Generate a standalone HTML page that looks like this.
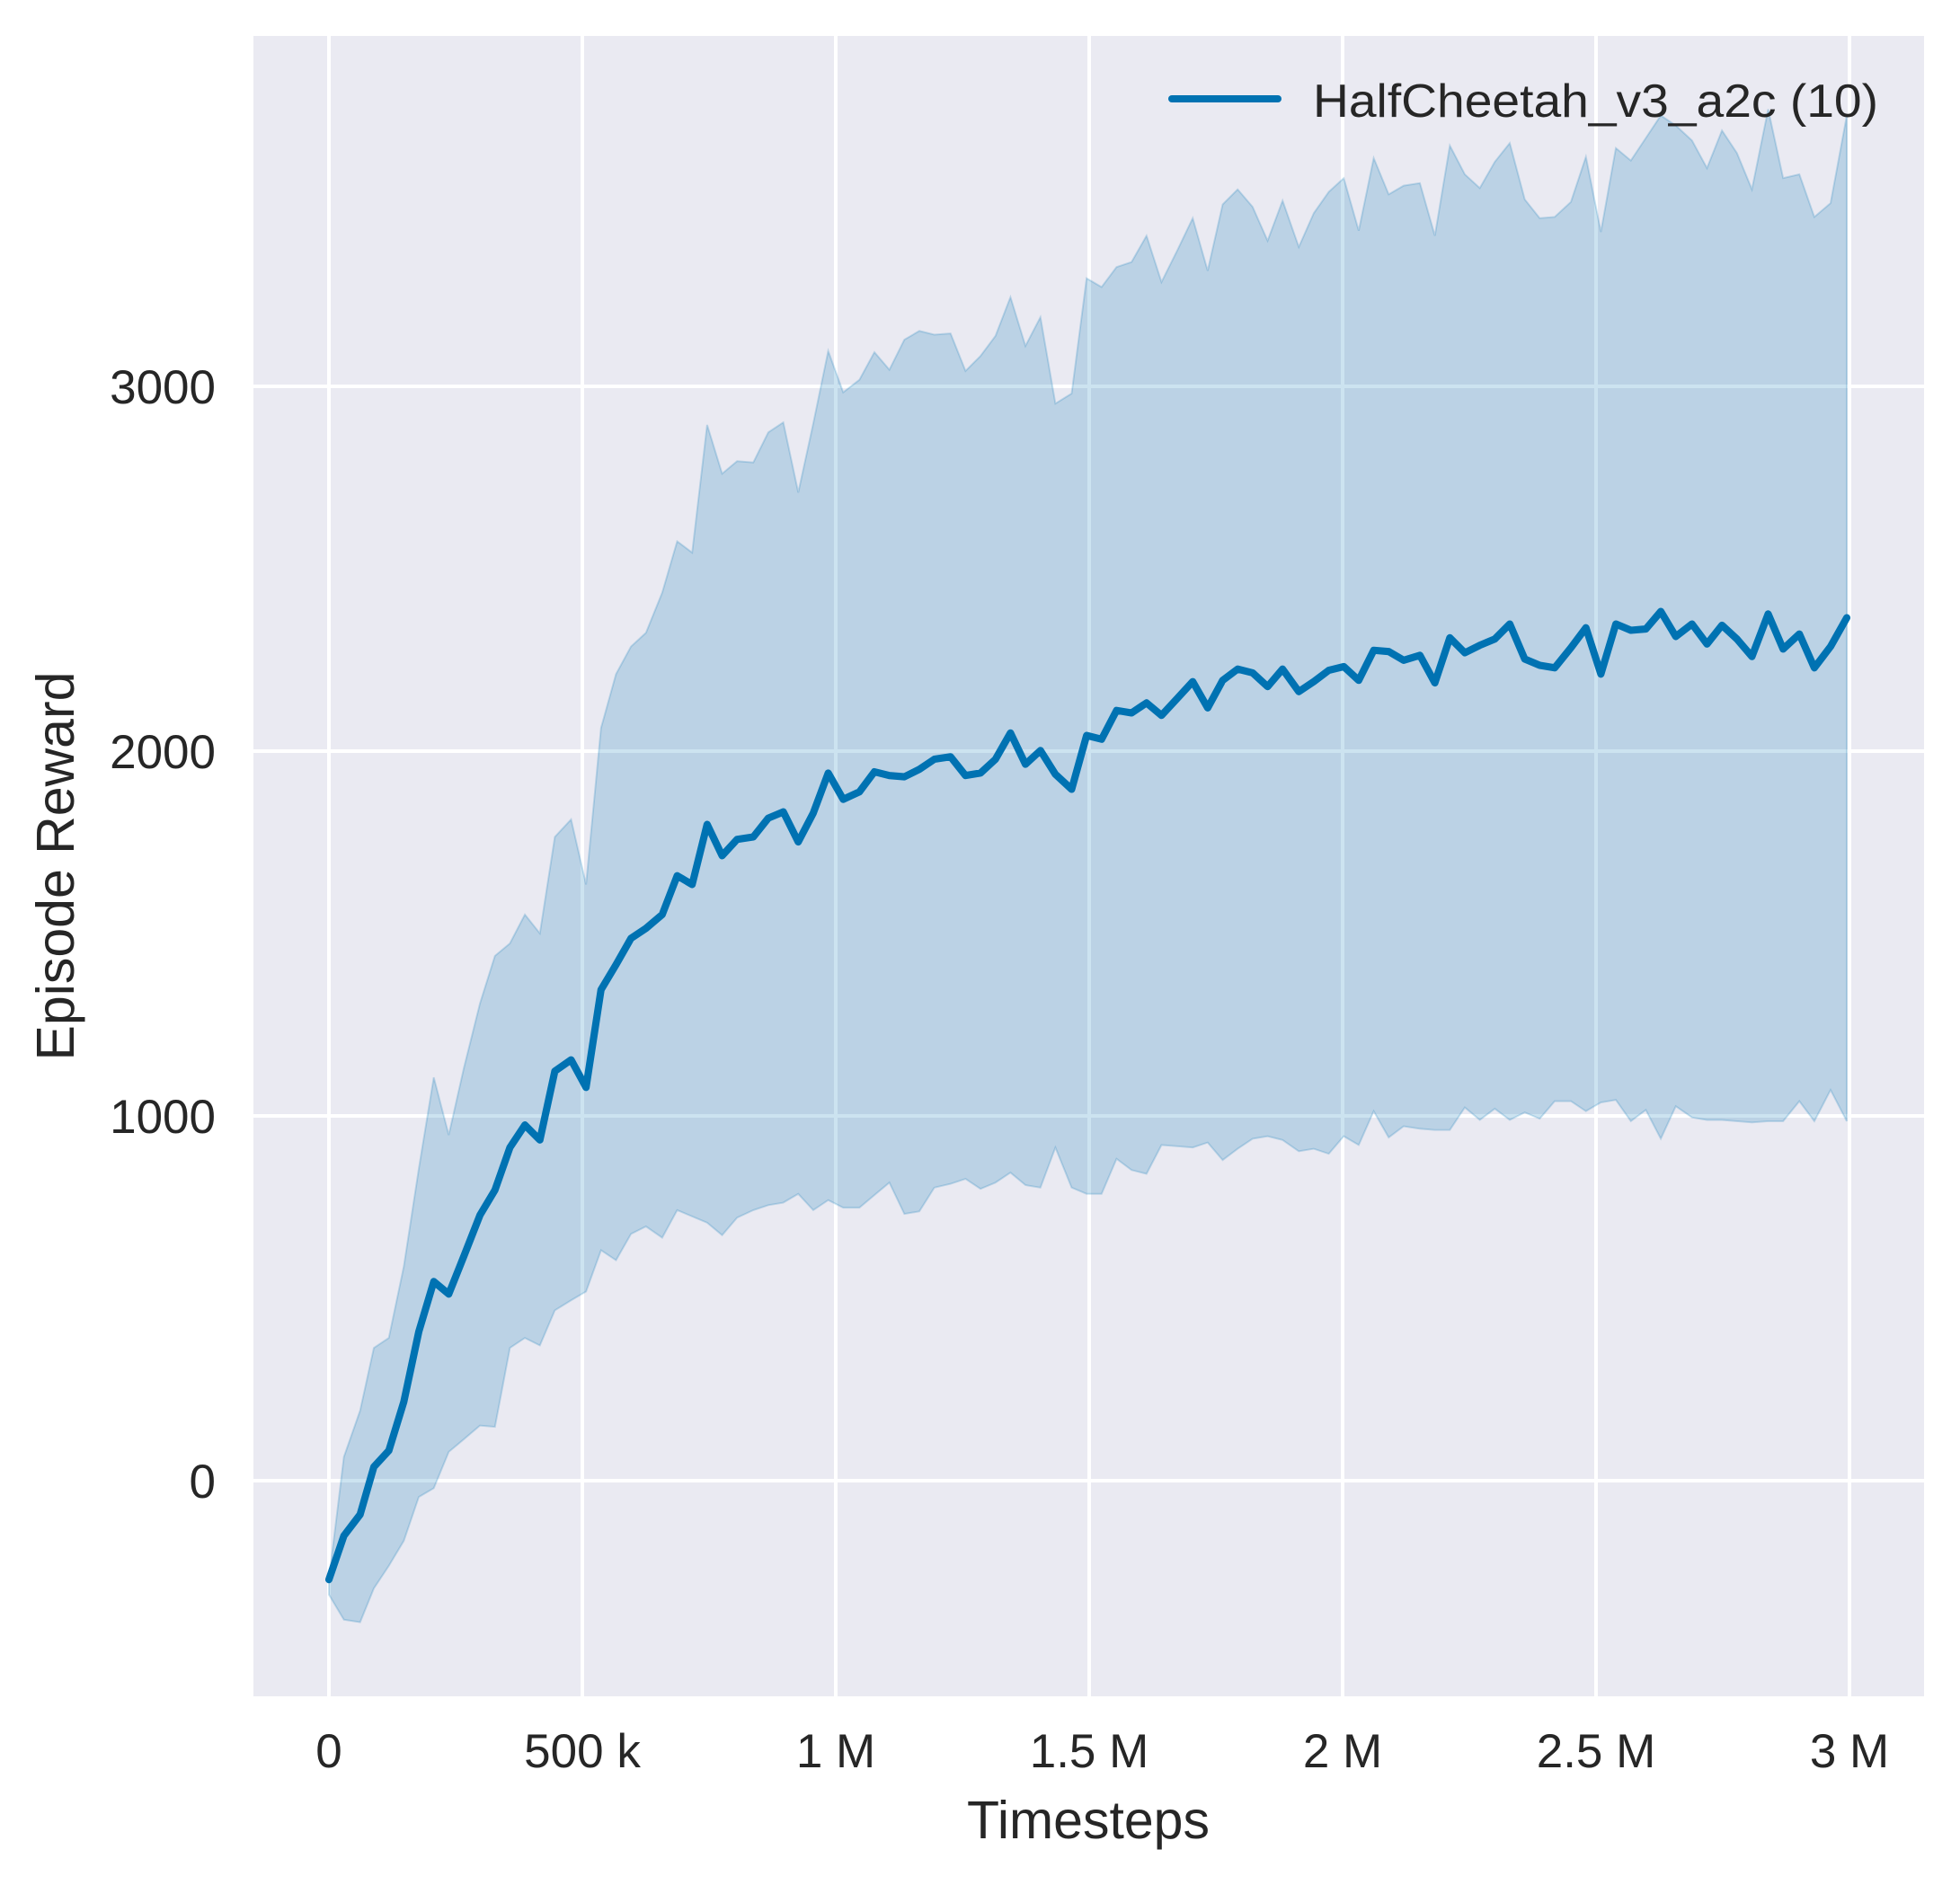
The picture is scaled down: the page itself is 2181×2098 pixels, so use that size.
<!DOCTYPE html>
<html><head><meta charset="utf-8"><style>
html,body{margin:0;padding:0;background:#fff;}
svg{display:block;}
text{font-family:"Liberation Sans",Arial,sans-serif;fill:#262626;}
</style></head><body>
<svg width="2181" height="2098" viewBox="0 0 2181 2098" xmlns="http://www.w3.org/2000/svg">
<rect x="282" y="40" width="1859" height="1848" fill="#eaeaf2"/>
<g stroke="#fff" stroke-width="4">
<line x1="366" y1="40" x2="366" y2="1888"/>
<line x1="648" y1="40" x2="648" y2="1888"/>
<line x1="930" y1="40" x2="930" y2="1888"/>
<line x1="1212" y1="40" x2="1212" y2="1888"/>
<line x1="1494" y1="40" x2="1494" y2="1888"/>
<line x1="1776" y1="40" x2="1776" y2="1888"/>
<line x1="2058" y1="40" x2="2058" y2="1888"/>
<line x1="282" y1="1648" x2="2141" y2="1648"/>
<line x1="282" y1="1242" x2="2141" y2="1242"/>
<line x1="282" y1="836" x2="2141" y2="836"/>
<line x1="282" y1="430" x2="2141" y2="430"/>
</g>
<g transform="matrix(1.389 0 0 1.394 0.7 -2.5)">
<polygon fill="#0072b2" fill-opacity="0.2" stroke="#0072b2" stroke-opacity="0.2" stroke-width="1.4" points="263,1263 275,1165 288,1128 299,1078 311,1070 323,1013 335,935 347,862 359,908 371,855 384,803 396,765 408,755 420,732 432,747 444,670 457,656 469,708 481,583 493,540 505,518 517,507 530,475 542,434 554,443 566,341 578,380 590,370 603,371 615,347 627,339 639,395 651,340 663,282 675,315 688,305 700,283 712,297 724,273 736,266 748,269 761,268 773,298 785,286 797,270 809,239 821,278 833,255 845,324 858,316 870,224 882,231 894,215 906,211 918,190 930,227 943,201 955,176 967,218 979,165 991,153 1003,167 1015,194 1027,162 1040,199 1052,172 1064,155 1076,144 1088,186 1100,128 1112,157 1124,150 1137,148 1149,190 1161,118 1173,141 1185,152 1197,131 1209,116 1221,161 1233,176 1245,175 1258,163 1270,127 1282,187 1294,120 1306,130 1318,112 1330,94 1342,102 1355,114 1367,136 1379,106 1391,124 1403,153 1416,89 1428,144 1441,141 1453,175 1466,164 1479,94 1479,897 1466,872 1453,897 1441,881 1428,897 1416,897 1403,898 1391,897 1379,896 1367,896 1355,894 1342,885 1330,911 1318,888 1306,897 1294,880 1282,882 1270,889 1258,881 1245,881 1233,895 1221,890 1209,896 1197,887 1185,896 1173,886 1161,904 1149,904 1137,903 1124,901 1112,910 1100,889 1088,916 1076,909 1064,923 1052,919 1040,921 1027,912 1015,909 1003,911 991,919 979,928 967,914 955,918 943,917 930,916 918,939 906,936 894,927 882,955 870,955 858,950 845,918 833,950 821,948 809,938 797,946 785,951 773,943 761,947 748,950 736,969 724,971 712,946 700,956 688,966 675,966 663,960 651,968 639,955 627,962 615,964 603,968 590,974 578,988 566,978 554,973 542,968 530,990 517,981 505,987 493,1008 481,1000 469,1033 457,1040 444,1048 432,1076 420,1070 408,1078 396,1141 384,1140 371,1151 359,1161 347,1190 335,1197 323,1232 311,1252 299,1270 288,1297 275,1295 263,1275"/>
<polyline fill="none" stroke="#0072b2" stroke-width="5.8" stroke-linejoin="round" stroke-linecap="round" points="263,1263 275,1228 288,1211 299,1173 311,1160 323,1121 335,1065 347,1025 359,1035 371,1005 384,972 396,952 408,918 420,900 432,912 444,857 457,848 469,870 481,792 493,772 505,751 517,743 530,732 542,701 554,708 566,660 578,685 590,672 603,670 615,655 627,650 639,674 651,651 663,619 675,640 688,634 700,618 712,621 724,622 736,616 748,608 761,606 773,621 785,619 797,608 809,587 821,612 833,601 845,620 858,632 870,589 882,592 894,569 906,571 918,563 930,573 943,559 955,546 967,567 979,545 991,536 1003,539 1015,550 1027,536 1040,554 1052,546 1064,537 1076,534 1088,545 1100,521 1112,522 1124,529 1137,525 1149,547 1161,511 1173,523 1185,517 1197,512 1209,500 1221,528 1233,533 1245,535 1258,519 1270,503 1282,540 1294,500 1306,505 1318,504 1330,490 1342,510 1355,500 1367,516 1379,501 1391,512 1403,526 1416,492 1428,520 1441,508 1453,535 1466,518 1479,495"/>
</g>
<line x1="1304" y1="110" x2="1422" y2="110" stroke="#0072b2" stroke-width="8" stroke-linecap="round"/>
<text x="1461" y="130" font-size="52" textLength="629" lengthAdjust="spacingAndGlyphs">HalfCheetah_v3_a2c (10)</text>
<g font-size="53" text-anchor="end">
<text x="240" y="449">3000</text>
<text x="240" y="855">2000</text>
<text x="240" y="1261">1000</text>
<text x="240" y="1667">0</text>
</g>
<g font-size="53" text-anchor="middle">
<text x="366" y="1967">0</text>
<text x="648" y="1967">500 k</text>
<text x="930" y="1967">1 M</text>
<text x="1212" y="1967">1.5 M</text>
<text x="1494" y="1967">2 M</text>
<text x="1776" y="1967">2.5 M</text>
<text x="2058" y="1967">3 M</text>
</g>
<text x="1211" y="2046" font-size="59" text-anchor="middle">Timesteps</text>
<text transform="translate(82,964) rotate(-90)" font-size="59" text-anchor="middle">Episode Reward</text>
</svg>
</body></html>
